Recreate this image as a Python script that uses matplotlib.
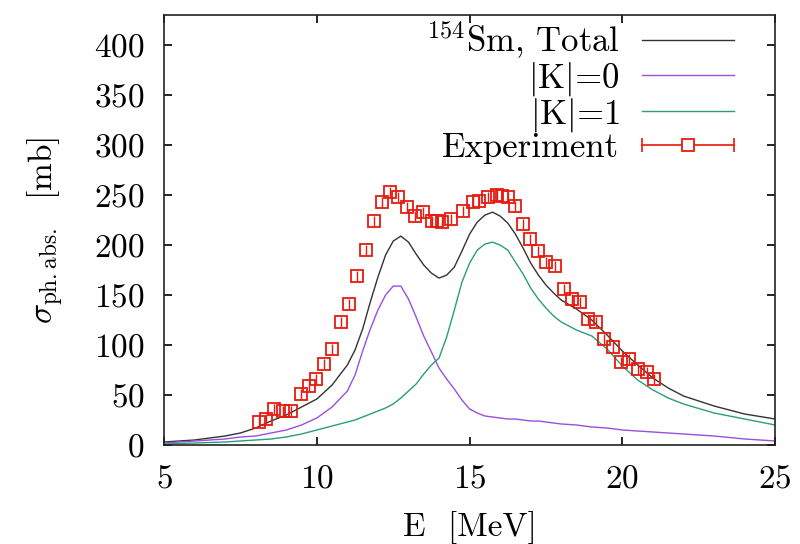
import matplotlib
matplotlib.use('Agg')
import matplotlib.pyplot as plt
import numpy as np
from matplotlib.lines import Line2D
from matplotlib.legend_handler import HandlerBase

plt.rcParams['font.family'] = 'cmr10'
plt.rcParams['mathtext.fontset'] = 'cm'
plt.rcParams['axes.formatter.use_mathtext'] = True
plt.rcParams['font.size'] = 24

# theory curves
e_th = [5, 6, 7, 7.5, 8, 8.5, 9, 9.5, 10, 10.5, 11, 11.25, 11.5, 11.75, 12,
        12.25, 12.5, 12.75, 13, 13.25, 13.5, 13.75, 14, 14.25, 14.5, 14.75,
        15, 15.25, 15.5, 15.75, 16, 16.25, 16.5, 16.75, 17, 17.25, 17.5,
        17.75, 18, 18.5, 19, 19.5, 20, 20.5, 21, 21.5, 22, 23, 24, 25]
total = [3, 5, 9, 12, 17, 24, 30, 38, 46, 60, 80, 95, 116, 143, 168,
         190, 204, 209, 203, 191, 180, 172, 167, 170, 178, 194,
         211, 223, 230, 233, 229, 222, 211, 197, 182, 170, 160,
         152, 145, 136, 125, 110, 94, 80, 67, 57, 49, 39, 31, 26]
k0 = [2, 4, 6, 8, 9, 12, 15, 20, 27, 38, 54, 70, 94, 116, 135,
      150, 159, 159, 146, 128, 109, 93, 77, 66, 56, 45,
      36, 32, 29, 28, 27, 26, 26, 25, 24, 24, 23,
      22, 21, 20, 18, 17, 15, 14, 13, 12, 11, 9, 6, 4]
k1 = [1, 2, 3, 4, 5, 6, 8, 11, 15, 19, 23, 25, 28, 31, 34,
      37, 41, 47, 54, 61, 71, 80, 87, 108, 135, 163,
      182, 195, 201, 203, 200, 195, 183, 171, 157, 146, 137,
      129, 123, 115, 109, 96, 79, 65, 55, 47, 41, 32, 26, 20]

# experiment
e_exp = [8.10, 8.33, 8.59, 8.88, 9.14, 9.47, 9.73, 9.99, 10.25, 10.51, 10.8,
         11.07, 11.33, 11.62, 11.88, 12.14, 12.4, 12.67, 12.96, 13.22, 13.48,
         13.78, 13.94, 14.1, 14.4, 14.8, 15.1, 15.3, 15.6, 15.9, 16.06, 16.25,
         16.48, 16.75, 16.97, 17.23, 17.5, 17.8, 18.1, 18.35, 18.6, 18.87,
         19.15, 19.4, 19.7, 19.97, 20.2, 20.5, 20.8, 21.05]
s_exp = [23, 26, 36, 34, 34, 51, 59, 66, 81, 96, 123, 141, 169, 195, 224, 243,
         253, 248, 238, 229, 233, 224, 224, 223, 226, 234, 243, 244, 248, 250,
         249, 248, 239, 221, 206, 194, 183, 179, 156, 146, 143, 126, 123, 106,
         98, 83, 86, 76, 73, 66]
err_exp = [5] * len(e_exp)

c_tot = '#333333'
c_k0 = '#9b4ee0'
c_k1 = '#2a9d7a'
c_exp = '#e8190e'


class HandlerExp(HandlerBase):
    def create_artists(self, legend, orig, xd, yd, width, height, fontsize, trans):
        y = height / 2 - yd
        x0, x1 = -xd, width - xd
        ln = Line2D([x0, x1], [y, y], color=c_exp, lw=1.2)
        caps = Line2D([x0, x1], [y, y], color=c_exp, ls='none', marker='|',
                      markersize=10, mew=1.2)
        sq = Line2D([(x0 + x1) / 2], [y], color=c_exp, ls='none', marker='s',
                    markersize=8, mfc='white', mec=c_exp, mew=1.3)
        for a in (ln, caps, sq):
            a.set_transform(trans)
        return [ln, caps, sq]


fig = plt.figure(figsize=(8, 5.44), dpi=100)
ax = fig.add_axes([0.205, 0.182, 0.764, 0.79])

l_tot, = ax.plot(e_th, total, color=c_tot, lw=1.0)
l_k0, = ax.plot(e_th, k0, color=c_k0, lw=1.0)
l_k1, = ax.plot(e_th, k1, color=c_k1, lw=1.0)
ax.errorbar(e_exp, s_exp, yerr=err_exp, fmt='s', color=c_exp, mfc='none',
            mec=c_exp, mew=1.3, markersize=8, elinewidth=1.0, capsize=0, zorder=3)

ax.set_xlim(5, 25)
ax.set_ylim(0, 430)
ax.set_xticks([5, 10, 15, 20, 25])
ax.set_yticks(np.arange(0, 401, 50))
ax.tick_params(direction='in', top=True, right=True, length=6, width=1.2, pad=14)
for sp in ax.spines.values():
    sp.set_linewidth(1.2)
    sp.set_color('#222222')

ax.set_xlabel(r'E  [MeV]', labelpad=13)
ax.set_ylabel(r'$\sigma_{\mathrm{ph.abs.}}$  [mb]', labelpad=20)

exp_handle = Line2D([], [], color=c_exp)
leg = ax.legend([l_tot, l_k0, l_k1, exp_handle],
                [r'$^{154}$Sm, Total', r'$|\mathrm{K}|$=0', r'$|\mathrm{K}|$=1', 'Experiment'],
                handler_map={exp_handle: HandlerExp()},
                loc='upper right', bbox_to_anchor=(0.956, 1.022), frameon=False,
                markerfirst=False, handlelength=2.65, labelspacing=-0.05,
                handletextpad=0.66, borderaxespad=0.0, fontsize=25)
for t in leg.get_texts():
    t.set_ha('right')

fig.savefig('out.png', dpi=100)
